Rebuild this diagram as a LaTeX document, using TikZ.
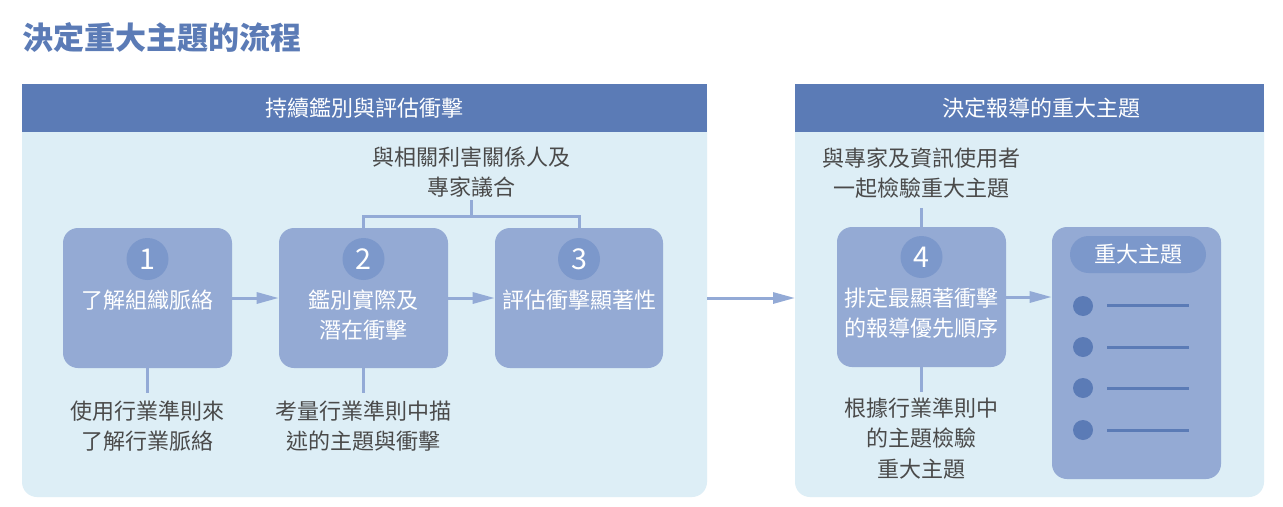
\documentclass[tikz,border=0pt]{standalone}
\usepackage{fontspec}
\setmainfont{Noto Sans CJK TC}
\usetikzlibrary{arrows.meta}
\definecolor{hdr}{HTML}{5B7BB6}
\definecolor{panel}{HTML}{DDEEF6}
\definecolor{boxc}{HTML}{94AAD4}
\definecolor{circc}{HTML}{7C98CB}
\definecolor{txt}{HTML}{4A4A4A}
\definecolor{arr}{HTML}{93AAD6}
\definecolor{bul}{HTML}{5B7BB6}
\begin{document}
\begin{tikzpicture}[x=0.75pt,y=-0.75pt,
  stepbox/.style={fill=boxc, rounded corners=11.25pt, minimum width=126.75pt, minimum height=105pt, inner sep=0pt},
  numc/.style={circle, fill=circc, minimum size=31.5pt, inner sep=0pt, text=white, font=\fontsize{21.5}{24}\selectfont},
  btxt/.style={text=white, font=\fontsize{16.5}{22.5}\selectfont, align=center, inner sep=0pt},
  note/.style={text=txt, font=\fontsize{16.5}{22.8}\selectfont, align=center, inner sep=0pt},
  htxt/.style={text=white, font=\fontsize{16.5}{22.5}\selectfont, inner sep=0pt},
  flow/.style={draw=arr, line width=2.25pt, -{Triangle[length=16.5pt,width=8.25pt]}},
  link/.style={draw=arr, line width=2.25pt},
  bulletdot/.style={circle, fill=bul, minimum size=15pt, inner sep=0pt},
  bulletline/.style={draw=bul, line width=2.25pt},
]
\useasboundingbox (0,0) rectangle (1283,507);
\fill[white] (0,0) rectangle (1283,507);

% title
\node[anchor=west, inner sep=0pt, text=hdr, font=\fontsize{23.3}{28}\selectfont\bfseries] (title) at (22,38) {決定重大主題的流程};

% panels
\fill[panel, rounded corners=11.25pt] (22,84) rectangle (707,497);
\fill[hdr] (22,84) rectangle (707,132);
\fill[panel, rounded corners=11.25pt] (795,84) rectangle (1264,497);
\fill[hdr] (795,84) rectangle (1264,132);
\node[htxt] (h1) at (364.5,108) {持續鑑別與評估衝擊};
\node[htxt] (h2) at (1041,108) {決定報導的重大主題};

% step boxes
\node[stepbox] (box1) at (147.5,298) {};
\node[stepbox] (box2) at (363.5,298) {};
\node[stepbox, minimum width=126pt] (box3) at (579,298) {};
\node[stepbox] (box4) at (921.5,297) {};
\node[stepbox, minimum height=189pt] (list) at (1136.5,353) {};

\node[numc] (n1) at (147.5,259) {1};
\node[numc] (n2) at (363.5,259) {2};
\node[numc] (n3) at (579,259) {3};
\node[numc] (n4) at (921.5,257) {4};

\node[btxt] (t1) at (147.5,300) {了解組織脈絡};
\node[btxt] (t2) at (363.5,315) {鑑別實際及\\潛在衝擊};
\node[btxt] (t3) at (579,300) {評估衝擊顯著性};
\node[btxt] (t4) at (921.5,313) {排定最顯著衝擊\\的報導優先順序};

% list box content
\node[fill=circc, rounded corners=13.875pt, minimum width=102pt, minimum height=27.75pt, inner sep=0pt, text=white, font=\fontsize{16.5}{22.5}\selectfont] (pill) at (1138,254.5) {重大主題};
\node[bulletdot] (d1) at (1083,306) {};
\node[bulletdot] (d2) at (1083,347) {};
\node[bulletdot] (d3) at (1083,388) {};
\node[bulletdot] (d4) at (1083,430) {};
\draw[bulletline] (1107,305) -- (1189,305);
\draw[bulletline] (1107,347) -- (1189,347);
\draw[bulletline] (1107,388) -- (1189,388);
\draw[bulletline] (1107,430) -- (1189,430);

% notes
\node[note] (top1) at (471,172) {與相關利害關係人及\\專家議合};
\node[note] (top4) at (921.5,173) {與專家及資訊使用者\\一起檢驗重大主題};
\node[note] (bot1) at (147.5,426) {使用行業準則來\\了解行業脈絡};
\node[note] (bot2) at (363.5,426) {考量行業準則中描\\述的主題與衝擊};
\node[note] (bot4) at (921.5,438.5) {根據行業準則中\\的主題檢驗\\重大主題};

% connector ends
\coordinate (c0) at (471,200);
\coordinate (c1) at (471,217);
\coordinate (c4t) at (921.5,208);
\coordinate (c1b) at (147.5,393);
\coordinate (c2b) at (363.5,393);
\coordinate (c4b) at (921.5,392);
\coordinate (m1) at (707,298);
\coordinate (m2) at (795,298);

% connectors
\draw[flow] (box1.east) -- (box2.west);
\draw[flow] (box2.east) -- (box3.west);
\draw[flow] (m1) -- (m2);
\draw[flow] (box4.east) -- (list.west |- box4.east);
\draw[link] (box2.north) -- ++(0,-11) -| (box3.north);
\draw[link] (c0) -- (c1);
\draw[link] (box4.north) -- (c4t);
\draw[link] (box1.south) -- (c1b);
\draw[link] (box2.south) -- (c2b);
\draw[link] (box4.south) -- (c4b);
\end{tikzpicture}
\end{document}
